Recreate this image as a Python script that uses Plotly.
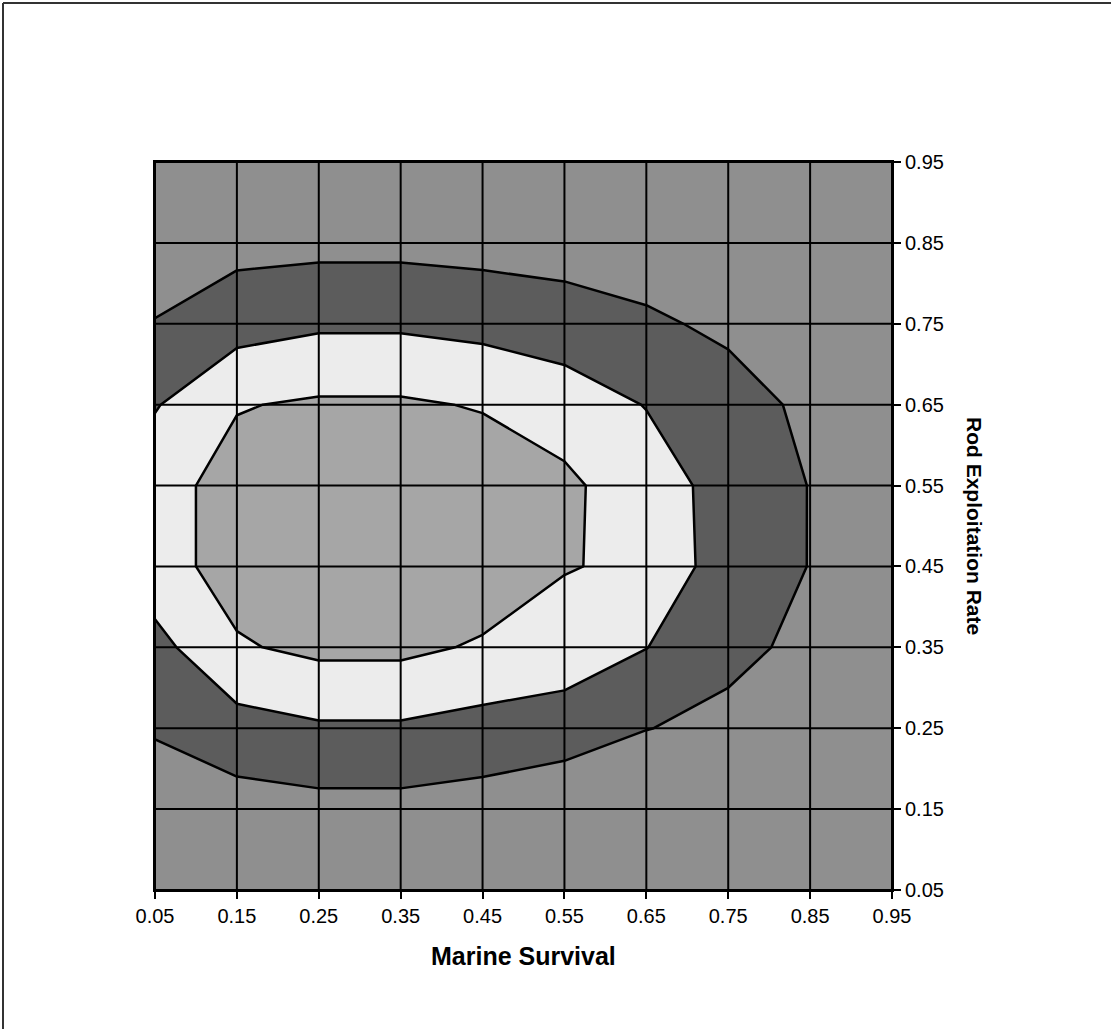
import plotly.graph_objects as go

# Grid (axis) values
marine_survival = [0.05, 0.15, 0.25, 0.35, 0.45, 0.55, 0.65, 0.75, 0.85, 0.95]
rod_exploitation = [0.05, 0.15, 0.25, 0.35, 0.45, 0.55, 0.65, 0.75, 0.85, 0.95]
tick_labels = ["0.05", "0.15", "0.25", "0.35", "0.45", "0.55", "0.65", "0.75", "0.85", "0.95"]

# Surface values, one row per rod exploitation rate (bottom to top)
row_005 = [0.20, 0.30, 0.30, 0.30, 0.30, 0.10, 0.10, 0.20, 0.30, 0.30]
row_015 = [0.50, 0.59, 0.70, 0.70, 0.58, 0.17, 0.20, 0.30, 0.30, 0.25]
row_025 = [1.08, 1.61, 1.87, 1.87, 1.64, 1.56, 1.02, 0.80, 0.40, 0.30]
row_035 = [1.68, 2.90, 3.22, 3.22, 2.89, 2.50, 2.02, 1.20, 0.82, 0.40]
row_045 = [2.60, 3.40, 3.70, 3.70, 3.60, 3.06, 2.80, 1.47, 0.98, 0.50]
row_055 = [2.60, 3.40, 3.70, 3.70, 3.60, 3.06, 2.83, 1.37, 0.985, 0.50]
row_065 = [1.93, 2.94, 3.13, 3.13, 2.93, 2.86, 1.94, 1.52, 0.74, 0.40]
row_075 = [1.05, 1.60, 1.85, 1.85, 1.69, 1.11, 1.20, 0.76, 0.40, 0.30]
row_085 = [0.34, 0.69, 0.73, 0.73, 0.65, 0.90, 0.33, 0.30, 0.30, 0.30]
row_095 = [0.20, 0.30, 0.30, 0.30, 0.30, 0.30, 0.30, 0.30, 0.30, 0.30]

band_colors = ["#8f8f8f", "#5c5c5c", "#ececec", "#a6a6a6"]

z = [row_005, row_015, row_025, row_035, row_045,
     row_055, row_065, row_075, row_085, row_095]

fig = go.Figure()
fig.add_trace(go.Contour(
    x=marine_survival, y=rod_exploitation, z=z,
    autocontour=False,
    contours=dict(start=1, end=3, size=1, coloring="fill"),
    colorscale=[[0, band_colors[0]], [1 / 3, band_colors[1]],
                [2 / 3, band_colors[2]], [1, band_colors[3]]],
    line=dict(color="black", width=2.5, smoothing=0),
    showscale=False, hoverinfo="skip",
))

# Gridlines drawn above the fills
gx, gy = [], []
for v in marine_survival:
    gx += [v, v, None]
    gy += [rod_exploitation[0], rod_exploitation[-1], None]
for v in rod_exploitation:
    gx += [marine_survival[0], marine_survival[-1], None]
    gy += [v, v, None]
fig.add_trace(go.Scatter(x=gx, y=gy, mode="lines",
                         line=dict(color="black", width=2),
                         hoverinfo="skip", showlegend=False))

font_family = "Liberation Sans, Arial, Helvetica, sans-serif"

fig.update_xaxes(range=[0.05, 0.95], tickvals=marine_survival, ticktext=tick_labels,
                 ticks="outside", ticklen=7, tickwidth=1.5, tickcolor="black",
                 showgrid=False, zeroline=False, showline=True, mirror=True,
                 linecolor="black", linewidth=2,
                 tickfont=dict(family=font_family, size=20, color="black"))
fig.update_yaxes(range=[0.05, 0.95], tickvals=rod_exploitation, ticktext=tick_labels,
                 side="right", ticks="outside", ticklen=7, tickwidth=1.5, tickcolor="black",
                 showgrid=False, zeroline=False, showline=True, mirror=True,
                 linecolor="black", linewidth=2,
                 tickfont=dict(family=font_family, size=20, color="black"))

fig.add_annotation(text="<b>Marine Survival</b>", xref="paper", yref="paper",
                   x=0.5, y=0, yshift=-66, showarrow=False,
                   xanchor="center", yanchor="middle",
                   font=dict(family=font_family, size=25, color="black"))
fig.add_annotation(text="<b>Rod Exploitation Rate</b>", xref="paper", yref="paper",
                   x=1, y=0.5, xshift=83, showarrow=False, textangle=90,
                   xanchor="center", yanchor="middle",
                   font=dict(family=font_family, size=21, color="black"))

# Outer frame (left and top edges)
L, R, T, B = 155, 219, 162, 139
W, H = 1111, 1029
pw, ph = W - L - R, H - T - B
fx0 = (3 - L) / pw
fy1 = (H - 3 - B) / ph
fy0 = (0 - B) / ph
fx1 = (W - L) / pw
fig.add_shape(type="line", xref="paper", yref="paper", x0=fx0, x1=fx0, y0=fy0, y1=fy1,
              line=dict(color="#333333", width=2))
fig.add_shape(type="line", xref="paper", yref="paper", x0=fx0, x1=fx1, y0=fy1, y1=fy1,
              line=dict(color="#333333", width=2))

fig.update_layout(width=W, height=H, margin=dict(l=L, r=R, t=T, b=B),
                  paper_bgcolor="white", plot_bgcolor="white", showlegend=False)

fig.write_html("out.html", config={"displayModeBar": False},
               post_script="document.body.style.margin='0px';document.body.style.overflow='hidden';")
